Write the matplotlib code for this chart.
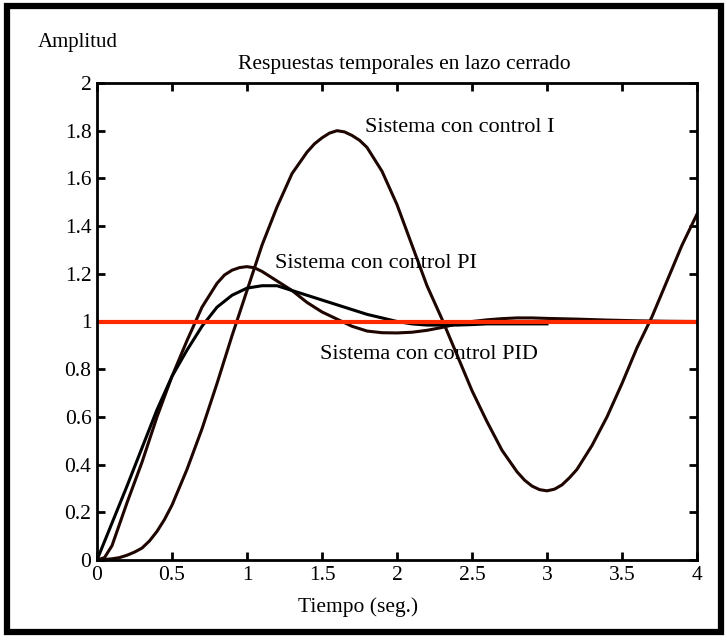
import matplotlib.pyplot as plt
from matplotlib.patches import Rectangle

plt.rcParams['font.family'] = ['Liberation Serif', 'DejaVu Serif']

# Respuesta con control I (lectura del grafico)
t_i = [0, 0.1, 0.15, 0.2, 0.25, 0.3, 0.35, 0.4, 0.45, 0.5, 0.6, 0.7, 0.8, 0.9,
       1.0, 1.1, 1.2, 1.3, 1.4, 1.45, 1.5, 1.55, 1.6, 1.65, 1.7, 1.75, 1.8,
       1.9, 2.0, 2.1, 2.2, 2.3, 2.4, 2.5, 2.6, 2.7, 2.8, 2.85, 2.9, 2.95, 3.0,
       3.05, 3.1, 3.15, 3.2, 3.3, 3.4, 3.5, 3.6, 3.7, 3.8, 3.9, 4.0]
y_i = [0, 0.005, 0.01, 0.02, 0.033, 0.05, 0.08, 0.12, 0.17, 0.23, 0.38, 0.55,
       0.74, 0.94, 1.13, 1.32, 1.48, 1.62, 1.71, 1.745, 1.77, 1.79, 1.80,
       1.795, 1.78, 1.76, 1.73, 1.63, 1.49, 1.32, 1.15, 1.01, 0.86, 0.71, 0.58,
       0.46, 0.37, 0.335, 0.31, 0.295, 0.29, 0.297, 0.315, 0.345, 0.38, 0.48,
       0.60, 0.74, 0.89, 1.02, 1.17, 1.32, 1.45]

# Respuesta con control PI
t_pi = [0, 0.05, 0.1, 0.2, 0.3, 0.4, 0.5, 0.6, 0.7, 0.8, 0.85, 0.9, 0.95, 1.0,
        1.05, 1.1, 1.2, 1.3, 1.4, 1.5, 1.6, 1.7, 1.8, 1.9, 2.0, 2.1, 2.2, 2.3,
        2.4, 2.5, 2.6, 2.7, 2.8, 2.9, 3.0, 3.2, 3.4, 3.6, 3.8, 4.0]
y_pi = [0, 0.01, 0.06, 0.24, 0.41, 0.60, 0.77, 0.92, 1.06, 1.16, 1.195, 1.215,
        1.226, 1.23, 1.225, 1.21, 1.17, 1.13, 1.08, 1.04, 1.01, 0.98, 0.96,
        0.953, 0.952, 0.955, 0.963, 0.975, 0.99, 1.0, 1.007, 1.012, 1.015,
        1.015, 1.013, 1.01, 1.006, 1.003, 1.001, 1.0]

# Respuesta con control PID (termina en t = 3)
t_pid = [0, 0.1, 0.2, 0.3, 0.4, 0.5, 0.6, 0.7, 0.8, 0.9, 1.0, 1.1, 1.2, 1.3,
         1.4, 1.5, 1.6, 1.7, 1.8, 1.9, 2.0, 2.1, 2.2, 2.3, 2.4, 2.5, 2.6, 2.7,
         2.8, 2.9, 3.0]
y_pid = [0, 0.155, 0.31, 0.47, 0.63, 0.77, 0.88, 0.98, 1.06, 1.11, 1.14, 1.15,
         1.15, 1.13, 1.11, 1.09, 1.07, 1.05, 1.03, 1.015, 1.0, 0.99, 0.985,
         0.985, 0.985, 0.987, 0.99, 0.99, 0.99, 0.99, 0.99]

referencia = 1.0

fig = plt.figure(figsize=(7.27, 6.4), dpi=100)
ax = fig.add_axes([97/727, 80/640, 600/727, 477/640])

curva = '#1e0500'
ax.plot(t_i, y_i, color=curva, lw=2.2)
ax.plot(t_pi, y_pi, color=curva, lw=2.2)
ax.plot(t_pid, y_pid, color='black', lw=2.2)
ax.axhline(referencia, color='#ff2a00', lw=3)

ax.set_xlim(0, 4)
ax.set_ylim(0, 2)
ax.set_xticks([0, 0.5, 1, 1.5, 2, 2.5, 3, 3.5, 4])
ax.set_xticklabels(['0', '0.5', '1', '1.5', '2', '2.5', '3', '3.5', '4'])
ax.set_yticks([0, 0.2, 0.4, 0.6, 0.8, 1, 1.2, 1.4, 1.6, 1.8, 2])
ax.set_yticklabels(['0', '0.2', '0.4', '0.6', '0.8', '1', '1.2', '1.4', '1.6', '1.8', '2'])
ax.tick_params(direction='in', top=True, right=True, length=6, width=2,
               labelsize=15.5, pad=4)
for s in ax.spines.values():
    s.set_linewidth(2)

ax.text(1.787, 1.815, 'Sistema con control I', fontsize=16, va='center')
ax.text(1.187, 1.245, 'Sistema con control PI', fontsize=16, va='center')
ax.text(1.487, 0.86, 'Sistema con control PID', fontsize=16, va='center')

fig.text(404/727, 1 - 65/640, 'Respuestas temporales en lazo cerrado',
         fontsize=15.5, ha='center', va='center')
fig.text(38/727, 1 - 42/640, 'Amplitud', fontsize=15, ha='left', va='center')
fig.text(358/727, 1 - 607/640, 'Tiempo (seg.)', fontsize=15.5, ha='center', va='center')

# marco negro alrededor
fig.patches.append(Rectangle((7/727, 8/640), 714/727, 626/640, transform=fig.transFigure,
                             fill=False, edgecolor='black', lw=4.5))

fig.savefig('out.png', dpi=100)
